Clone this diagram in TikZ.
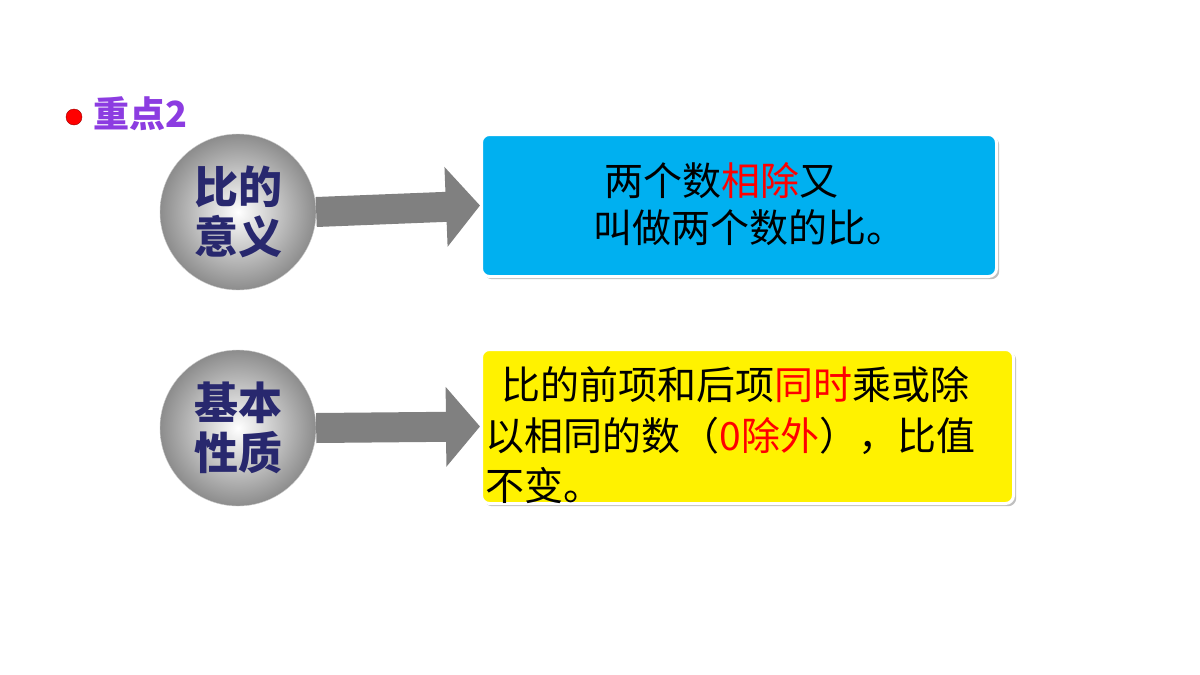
\documentclass[tikz,border=0pt]{standalone}
\usepackage{fontspec}
\setmainfont{Noto Sans CJK SC}
\usetikzlibrary{arrows.meta,shadows}
\definecolor{navy}{RGB}{40,40,110}
\definecolor{skyblue}{RGB}{0,176,240}
\definecolor{purp}{RGB}{140,60,225}
\tikzset{ball/.style={circle, minimum size=156pt, inner sep=0pt, inner color=white, outer color=black!45, draw=black!20, align=center, font=\fontsize{44}{50}\selectfont\bfseries, text=navy},
  bb/.style={draw=white, line width=3pt, rounded corners=8pt, drop shadow},
  arr/.style={line width=30pt, draw=black!50, -{Triangle[length=34pt, width=78pt]}},
  txt/.style={anchor=west, font=\fontsize{39}{46}\selectfont}}
\begin{document}
\begin{tikzpicture}[x=1pt,y=-1pt]
    \useasboundingbox[fill=white] (0,0) rectangle (1200,675);
    \fill[red, draw=red!60!black] (74,117) circle (8);
    \node[anchor=west, text=purp, font=\fontsize{36}{40}\selectfont\bfseries] (title) at (90,114) {重点2};

    \node[ball] (meaning) at (238,212) {比的\\意义};
    \node[ball] (property) at (238,428) {基本\\性质};

    \node[bb, fill=skyblue, minimum width=515pt, minimum height=142pt, anchor=north west] (def) at (480,133) {};
    \node[bb, fill=yellow, minimum width=532pt, minimum height=154pt, anchor=north west] (rule) at (480,348) {};

    \node[txt] (l1) at (601,181) {两个数\textcolor{red}{相除}又};
    \node[txt] (l2) at (590,228) {叫做两个数的比。};

    \node[txt] (r1) at (498,385) {比的前项和后项\textcolor{red}{同时}乘或除};
    \node[txt] (r2) at (482,436) {以相同的数（\textcolor{red}{0除外}），比值};
    \node[txt] (r3) at (482,486) {不变。};

    \draw[arr] (meaning.east) -- (def.west);
    \draw[arr] (property.east) -- (rule.west);
\end{tikzpicture}
\end{document}
